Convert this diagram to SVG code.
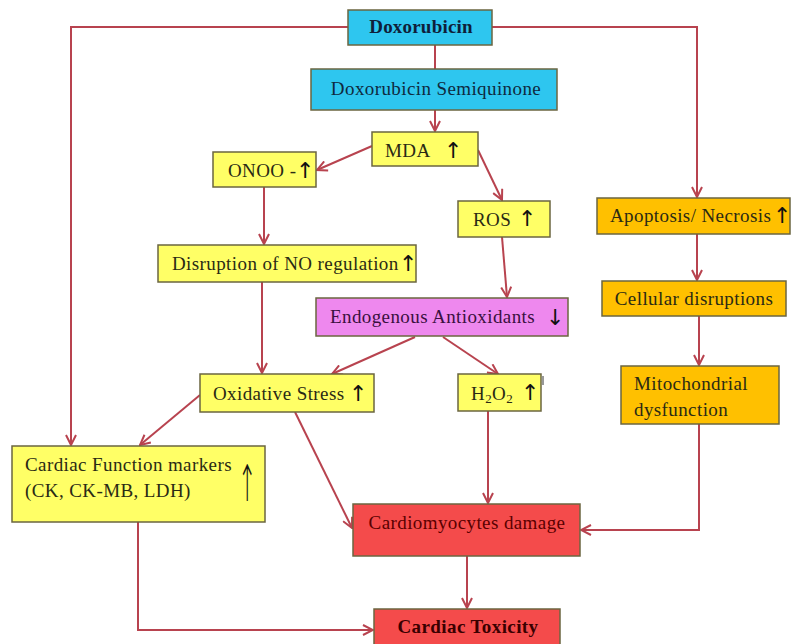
<svg xmlns="http://www.w3.org/2000/svg" width="792" height="644" viewBox="0 0 792 644">
<style>
.box{stroke:#6b6640;stroke-width:1.5}
.blue{fill:#2ec6ef}
.yel{fill:#ffff66}
.pink{fill:#ee88ee}
.org{fill:#ffc000}
.red{fill:#f44b4b}
text{font-family:"Liberation Serif","Times New Roman",serif;font-size:19px;letter-spacing:0.4px;fill:#2a2a14}
.arr{font-family:"DejaVu Sans",sans-serif;font-size:22px;letter-spacing:0;fill:#111}
.c{stroke:#b8434f;stroke-width:2;fill:none}
</style>
<defs>
<marker id="ah" viewBox="0 0 12 12" refX="11" refY="6" markerWidth="12" markerHeight="12" markerUnits="userSpaceOnUse" orient="auto">
<path d="M1,1 L11,6 L1,11" fill="none" stroke="#b8434f" stroke-width="2"/>
</marker>
</defs>
<rect width="792" height="644" fill="#fff"/>
<g id="connectors">
<polyline class="c" points="348,27 71,27 71,445" marker-end="url(#ah)"/>
<polyline class="c" points="492,27 697,27 697,197" marker-end="url(#ah)"/>
<line class="c" x1="435" y1="45" x2="435" y2="69"/>
<line class="c" x1="435" y1="110" x2="435" y2="131" marker-end="url(#ah)"/>
<line class="c" x1="372" y1="146" x2="317" y2="170" marker-end="url(#ah)"/>
<line class="c" x1="478" y1="150" x2="502" y2="200" marker-end="url(#ah)"/>
<line class="c" x1="264" y1="187" x2="264" y2="244" marker-end="url(#ah)"/>
<line class="c" x1="502" y1="237" x2="507" y2="297" marker-end="url(#ah)"/>
<line class="c" x1="262" y1="282" x2="262" y2="373" marker-end="url(#ah)"/>
<line class="c" x1="415" y1="337" x2="332" y2="374" marker-end="url(#ah)"/>
<line class="c" x1="443" y1="337" x2="498" y2="374" marker-end="url(#ah)"/>
<line class="c" x1="200" y1="395" x2="140" y2="445" marker-end="url(#ah)"/>
<line class="c" x1="295" y1="412" x2="352" y2="528" marker-end="url(#ah)"/>
<line class="c" x1="488" y1="411" x2="488" y2="503" marker-end="url(#ah)"/>
<line class="c" x1="697" y1="234" x2="697" y2="280" marker-end="url(#ah)"/>
<line class="c" x1="699" y1="316" x2="699" y2="365" marker-end="url(#ah)"/>
<polyline class="c" points="699,424 699,530 581,530" marker-end="url(#ah)"/>
<line class="c" x1="467" y1="556" x2="467" y2="608" marker-end="url(#ah)"/>
<polyline class="c" points="138,522 138,630 373,630" marker-end="url(#ah)"/>
</g>
<g id="doxorubicin">
<rect class="box blue" x="348" y="10" width="144" height="35"/>
<text x="421" y="33" text-anchor="middle" font-weight="bold" style="fill:#0f1f3a;letter-spacing:0.2px">Doxorubicin</text>
</g>
<g id="semiquinone">
<rect class="box blue" x="311" y="69" width="246" height="41"/>
<text x="436" y="95" text-anchor="middle" style="fill:#0f2a40">Doxorubicin Semiquinone</text>
</g>
<g id="mda">
<rect class="box yel" x="372" y="132" width="106" height="34"/>
<text x="385" y="157">MDA</text>
<text class="arr" x="444" y="158">↑</text>
</g>
<g id="onoo">
<rect class="box yel" x="213" y="152" width="103" height="35"/>
<text x="228" y="177">ONOO -</text>
<text class="arr" x="296" y="178">↑</text>
</g>
<g id="ros">
<rect class="box yel" x="458" y="201" width="92" height="36"/>
<text x="473" y="226">ROS</text>
<text class="arr" x="518" y="226">↑</text>
</g>
<g id="apoptosis">
<rect class="box org" x="597" y="198" width="193" height="36"/>
<text x="610" y="222">Apoptosis/ Necrosis</text>
<text class="arr" x="773" y="223">↑</text>
</g>
<g id="disruption">
<rect class="box yel" x="158" y="245" width="258" height="37"/>
<text x="172" y="270">Disruption of NO regulation</text>
<text class="arr" x="399" y="271">↑</text>
</g>
<g id="antioxidants">
<rect class="box pink" x="316" y="298" width="252" height="38"/>
<text x="330" y="323" style="fill:#3a1040">Endogenous Antioxidants</text>
<text class="arr" x="546" y="325">↓</text>
</g>
<g id="cellular">
<rect class="box org" x="602" y="281" width="184" height="35"/>
<text x="694" y="305" text-anchor="middle">Cellular disruptions</text>
</g>
<g id="oxidative">
<rect class="box yel" x="200" y="374" width="174" height="38"/>
<text x="213" y="400">Oxidative Stress</text>
<text class="arr" x="349" y="401">↑</text>
</g>
<g id="h2o2">
<rect class="box yel" x="458" y="374" width="83" height="37"/>
<text x="471" y="400">H<tspan font-size="13" dy="3">2</tspan><tspan dy="-3">O</tspan><tspan font-size="13" dy="3">2</tspan></text>
<text class="arr" x="521" y="400">↑</text>
<line x1="543" y1="376" x2="543" y2="385" stroke="#333" stroke-width="1"/>
</g>
<g id="markers">
<rect class="box yel" x="12" y="446" width="253" height="76"/>
<text x="25" y="471">Cardiac Function markers</text>
<text x="25" y="497">(CK, CK-MB, LDH)</text>
<text class="arr" x="238" y="501" font-weight="200" transform="translate(238 501) scale(1 2.3) translate(-238 -501)">↑</text>
</g>
<g id="mitochondrial">
<rect class="box org" x="621" y="366" width="158" height="58"/>
<text x="634" y="390">Mitochondrial</text>
<text x="634" y="416">dysfunction</text>
</g>
<g id="cardiomyocytes">
<rect class="box red" x="353" y="504" width="227" height="52"/>
<text x="467" y="529" text-anchor="middle" style="fill:#5a0000">Cardiomyocytes damage</text>
</g>
<g id="toxicity">
<rect class="box red" x="374" y="609" width="186" height="40"/>
<text x="468" y="633" text-anchor="middle" font-weight="bold" style="fill:#3a0000">Cardiac Toxicity</text>
</g>
</svg>
